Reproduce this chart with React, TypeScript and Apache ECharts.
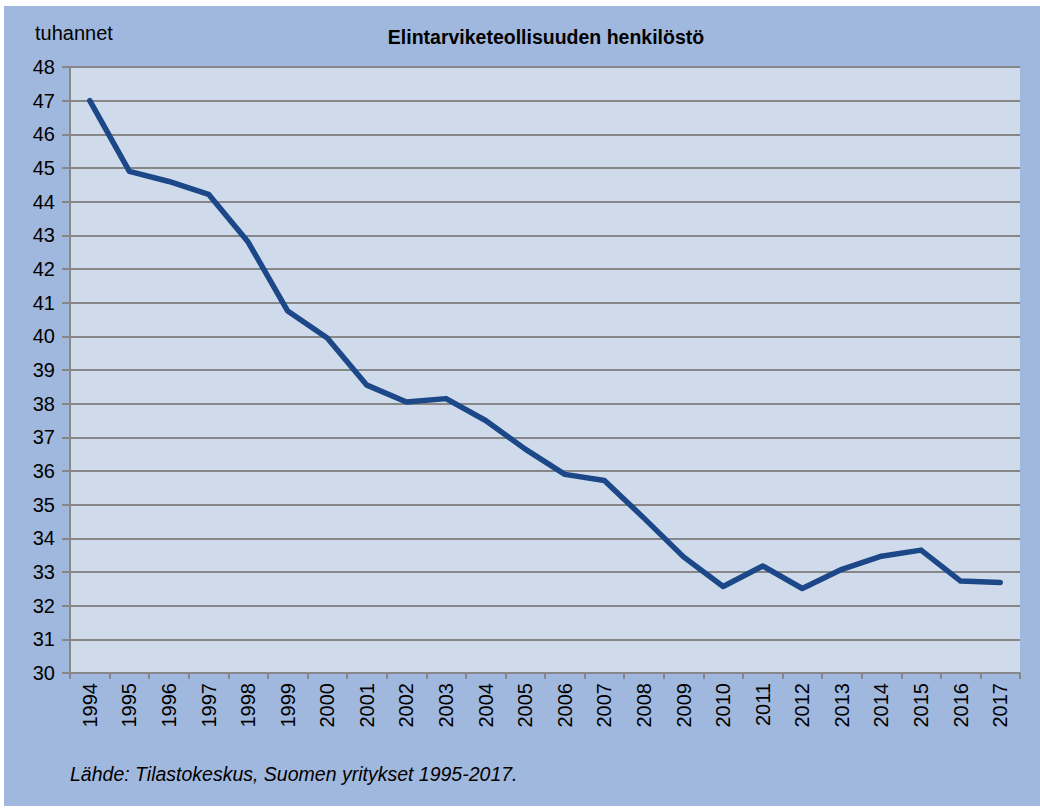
import React, { useEffect, useRef } from "react";
import * as echarts from "echarts";

const years = [
  "1994", "1995", "1996", "1997", "1998", "1999", "2000", "2001", "2002", "2003", "2004", "2005",
  "2006", "2007", "2008", "2009", "2010", "2011", "2012", "2013", "2014", "2015", "2016", "2017",
];
const staff = [
  47.0, 44.9, 44.6, 44.22, 42.8, 40.75, 39.95, 38.55, 38.05, 38.15, 37.5, 36.65,
  35.9, 35.72, 34.6, 33.45, 32.57, 33.18, 32.51, 33.08, 33.47, 33.65, 32.73, 32.69,
];
const titleText = "Elintarviketeollisuuden henkilöstö";
const unitText = "tuhannet";
const sourceText = "Lähde: Tilastokeskus, Suomen yritykset 1995-2017.";

const FONT = "'Liberation Sans', Arial, Helvetica, sans-serif";
const GRAY = "#878787";

export default function App() {
  const ref = useRef<HTMLDivElement>(null);
  useEffect(() => {
    if (!ref.current) return;
    const chart = echarts.init(ref.current, undefined, { renderer: "svg" });
    chart.setOption({
      animation: false,
      backgroundColor: "#a0b8dd",
      textStyle: { fontFamily: FONT },
      title: {
        text: titleText,
        left: 537,
        top: 16,
        textAlign: "center",
        textStyle: { fontFamily: FONT, fontSize: 19.5, fontWeight: "bold", color: "#000" },
      },
      graphic: [
        {
          type: "text",
          left: 31,
          top: 17,
          style: { text: unitText, fontFamily: FONT, fontSize: 20, fill: "#000" },
        },
        {
          type: "text",
          left: 66,
          top: 758,
          style: { text: sourceText, fontFamily: FONT, fontSize: 19.5, fontStyle: "italic", fill: "#000" },
        },
      ],
      grid: {
        left: 66,
        top: 61,
        width: 950,
        height: 606,
        show: true,
        backgroundColor: "#cfdbea",
        borderWidth: 0,
      },
      xAxis: {
        type: "category",
        data: years,
        boundaryGap: true,
        axisLine: { show: true, lineStyle: { color: GRAY, width: 2 } },
        axisTick: { show: true, length: 6, lineStyle: { color: GRAY, width: 2 } },
        axisLabel: { rotate: 90, margin: 10, fontSize: 20, color: "#000", fontFamily: FONT, interval: 0 },
        splitLine: { show: false },
      },
      yAxis: {
        type: "value",
        min: 30,
        max: 48,
        interval: 1,
        axisLine: { show: true, lineStyle: { color: GRAY, width: 2 } },
        axisTick: { show: true, length: 8, lineStyle: { color: GRAY, width: 2 } },
        axisLabel: { margin: 15, fontSize: 20, color: "#000", fontFamily: FONT },
        splitLine: { show: true, lineStyle: { color: GRAY, width: 2 } },
      },
      series: [
        {
          type: "line",
          data: staff,
          symbol: "none",
          lineStyle: { color: "#1c4889", width: 5.5, cap: "round", join: "round" },
        },
      ],
    });
    return () => chart.dispose();
  }, []);
  return (
    <div style={{ position: "fixed", left: 0, top: 0, width: 1040, height: 810, background: "#fff" }}>
      <div ref={ref} style={{ position: "absolute", left: 4, top: 6, width: 1036, height: 800 }} />
    </div>
  );
}
